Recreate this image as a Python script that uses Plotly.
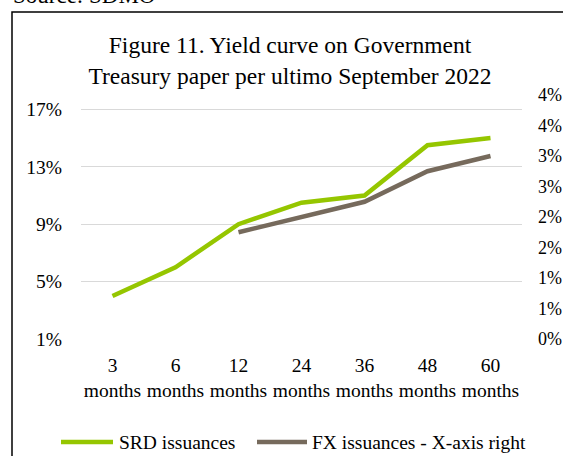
import plotly.graph_objects as go

# Tenor buckets
tenors = ["3<br>months", "6<br>months", "12<br>months", "24<br>months",
          "36<br>months", "48<br>months", "60<br>months"]

# Yields in percent
srd_yield = [4.0, 6.0, 9.0, 10.5, 11.0, 14.5, 15.0]
fx_yield = [None, None, 1.75, 2.0, 2.25, 2.75, 3.0]

# Axis ticks
left_ticks = [1, 5, 9, 13, 17]
right_ticks = [0, 0.5, 1.0, 1.5, 2.0, 2.5, 3.0, 3.5, 4.0]

GREEN = "#95C600"
GREY = "#766A5C"
FONT = "Liberation Serif"

W, H = 563, 456
L, R, T, B = 81, 41, 95, 117
PW, PH = W - L - R, H - T - B


def px_x(p):
    return (p - L) / PW


def px_y(p):
    return (H - B - p) / PH


fig = go.Figure()
fig.add_trace(go.Scatter(x=tenors, y=srd_yield, mode="lines", name="SRD issuances",
                         line=dict(color=GREEN, width=4.5), showlegend=False))
fig.add_trace(go.Scatter(x=tenors, y=fx_yield, mode="lines",
                         name="FX issuances - X-axis right", yaxis="y2",
                         line=dict(color=GREY, width=4.5), showlegend=False))

fig.update_layout(
    width=W, height=H,
    margin=dict(l=L, r=R, t=T, b=B, autoexpand=False),
    paper_bgcolor="white", plot_bgcolor="white",
    font=dict(family=FONT, size=19.5, color="black"),
    title=dict(text="Figure 11. Yield curve on Government<br>Treasury paper per ultimo September 2022",
               x=290 / W, xanchor="center", y=1 - 53 / H, yanchor="middle",
               font=dict(family=FONT, size=23.5, color="black")),
    xaxis=dict(type="category", range=[-0.5, 6.5], showgrid=False, showline=False,
               ticks="", ticklabelstandoff=12, tickfont=dict(size=19.5),
               automargin=False),
    yaxis=dict(range=[1, 18], tickvals=left_ticks,
               ticktext=[f"{v}%" for v in left_ticks],
               showgrid=True, gridcolor="#D9D9D9", gridwidth=1.3,
               zeroline=False, showline=False, ticks="", ticklabelstandoff=18,
               automargin=False),
    yaxis2=dict(range=[0, 4], overlaying="y", side="right", tickvals=right_ticks,
                ticktext=[f"{int(v + 0.5)}%" for v in right_ticks],
                showgrid=False, zeroline=False, showline=False, ticks="",
                ticklabelstandoff=15, tickfont=dict(size=18), automargin=False),
    showlegend=False,
)

# Frame around the figure
fig.add_shape(type="rect", xref="paper", yref="paper",
              x0=px_x(12), x1=px_x(575), y0=px_y(470), y1=px_y(12),
              line=dict(color="black", width=1.5), fillcolor="rgba(0,0,0,0)")

# Source note above the frame
fig.add_annotation(text="Source: SDMO", xref="paper", yref="paper",
                   x=px_x(11), y=px_y(-5), xanchor="left", yanchor="middle",
                   showarrow=False, font=dict(family=FONT, size=23, color="black"))

# Legend drawn below the category labels
legend_items = [
    ("SRD issuances", GREEN, 61, 113, 117),
    ("FX issuances - X-axis right", GREY, 257, 307, 310),
]
for label, color, lx0, lx1, tx in legend_items:
    fig.add_shape(type="line", xref="paper", yref="paper",
                  x0=px_x(lx0), x1=px_x(lx1), y0=px_y(442), y1=px_y(442),
                  line=dict(color=color, width=4.5))
    fig.add_annotation(text=label, xref="paper", yref="paper",
                       x=px_x(tx), y=px_y(442), xanchor="left", yanchor="middle",
                       showarrow=False, font=dict(family=FONT, size=19.5, color="black"))

fig.write_html("out.html")
